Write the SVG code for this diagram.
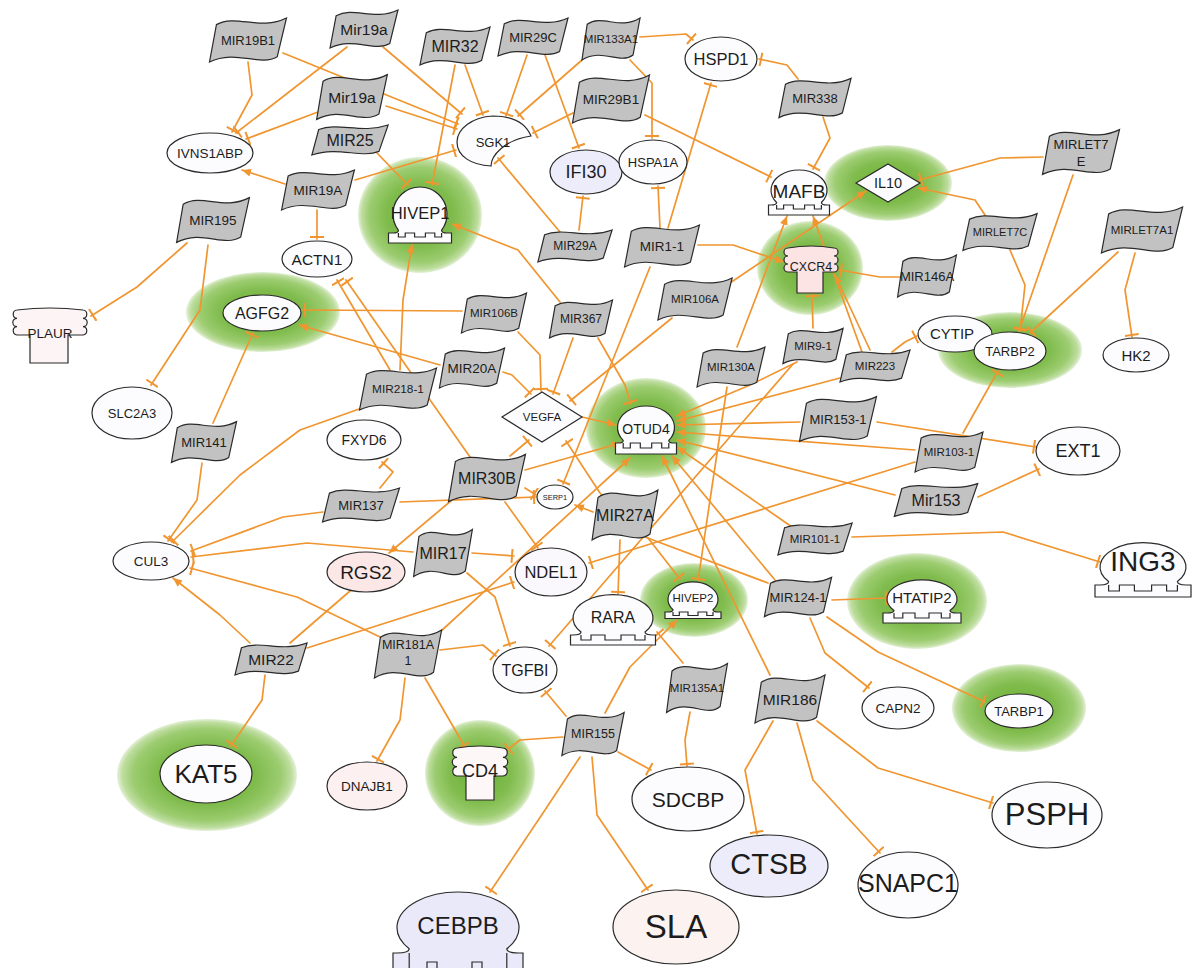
<svg xmlns="http://www.w3.org/2000/svg" width="1195" height="968" viewBox="0 0 1195 968">
<defs>
<style>
.e{fill:none;stroke:#f0952f;stroke-width:1.7;stroke-linejoin:round;stroke-linecap:round}
.t{marker-end:url(#tb)}
.a{marker-end:url(#ar)}
.mir{fill:#c2c2c2;stroke:#2a2a2a;stroke-width:1.2}
.g{fill:#fcfcff;stroke:#2a2a2a;stroke-width:1.2}
.h{fill:url(#halo)}
.ln{fill:none;stroke:#2a2a2a;stroke-width:1.2}
text{font-family:"Liberation Sans",Arial,Helvetica,sans-serif;text-anchor:middle;dominant-baseline:central;fill:#1c1c1c}
</style>
<radialGradient id="halo">
<stop offset="0" stop-color="#6cae35"/>
<stop offset="0.55" stop-color="#80bc4d"/>
<stop offset="0.82" stop-color="#9ccc70"/>
<stop offset="0.94" stop-color="#bedd9f"/>
<stop offset="1" stop-color="#e4f1d8"/>
</radialGradient>
<path id="flag" d="M-28.7,-14 C-10.5,-24 10.5,-8 35,-20 L26.6,15.2 C10.5,24.8 -10.5,8 -35,20 Z" class="mir" vector-effect="non-scaling-stroke"/>
<marker id="tb" markerUnits="userSpaceOnUse" markerWidth="6" markerHeight="14" refX="4" refY="7" orient="auto"><path d="M2,0V14" stroke="#f0952f" stroke-width="2"/></marker>
<marker id="ar" markerUnits="userSpaceOnUse" markerWidth="10" markerHeight="10" refX="9" refY="5" orient="auto"><path d="M0,1 L9,5 L0,9 Z" fill="#f0952f"/></marker>
</defs>
<rect width="1195" height="968" fill="#ffffff"/>
<g id="halos">
<ellipse class="h" cx="420" cy="215" rx="62" ry="58"/>
<ellipse class="h" cx="888" cy="183" rx="64" ry="38"/>
<ellipse class="h" cx="810" cy="268" rx="53" ry="47"/>
<ellipse class="h" cx="263" cy="312" rx="77" ry="40"/>
<ellipse class="h" cx="646" cy="428" rx="60" ry="50"/>
<ellipse class="h" cx="1010" cy="350" rx="72" ry="38"/>
<ellipse class="h" cx="694" cy="600" rx="54" ry="37"/>
<ellipse class="h" cx="917" cy="601" rx="70" ry="48"/>
<ellipse class="h" cx="1019" cy="708" rx="67" ry="44"/>
<ellipse class="h" cx="207" cy="775" rx="90" ry="56"/>
<ellipse class="h" cx="480" cy="773" rx="55" ry="53"/>
</g>
<g id="connectors">
<polyline class="e t" points="248,62 252,95 232,132"/>
<polyline class="e t" points="283,53 458,124"/>
<polyline class="e t" points="347,47 236,133"/>
<polyline class="e t" points="383,47 462,114"/>
<polyline class="e t" points="318,112 246,139"/>
<polyline class="e t" points="386,106 457,129"/>
<polyline class="e t" points="455,65 432,185"/>
<polyline class="e t" points="465,65 483,115"/>
<polyline class="e t" points="377,153 408,185"/>
<polyline class="e a" points="285,184 242,170"/>
<polyline class="e t" points="355,180 456,150"/>
<polyline class="e t" points="317,210 317,239"/>
<polyline class="e t" points="527,55 506,116"/>
<polyline class="e t" points="545,55 579,148"/>
<polyline class="e t" points="640,37 686,34 693,40"/>
<polyline class="e t" points="630,60 652,83 652,138"/>
<polyline class="e t" points="582,60 518,116"/>
<polyline class="e t" points="573,113 533,133"/>
<polyline class="e t" points="645,115 771,177"/>
<polyline class="e t" points="798,79 787,65 759,59"/>
<polyline class="e t" points="823,117 830,138 813,169"/>
<polyline class="e t" points="579,230 583,196"/>
<polyline class="e t" points="560,232 498,158"/>
<polyline class="e t" points="668,228 711,83"/>
<polyline class="e t" points="660,228 658,186"/>
<polyline class="e a" points="698,245 733,245 784,262"/>
<polyline class="e t" points="650,267 563,484"/>
<polyline class="e a" points="730,283 866,191"/>
<polyline class="e t" points="672,318 570,401"/>
<polyline class="e t" points="462,311 303,310"/>
<polyline class="e t" points="518,332 540,355 541,391"/>
<polyline class="e t" points="573,338 553,394"/>
<polyline class="e t" points="598,338 625,385 631,404"/>
<polyline class="e a" points="560,302 518,250 452,224"/>
<polyline class="e t" points="503,372 512,375 531,394"/>
<polyline class="e a" points="440,365 299,325"/>
<polyline class="e t" points="390,370 337,280"/>
<polyline class="e t" points="470,457 346,280"/>
<polyline class="e a" points="400,370 403,300 412,244"/>
<polyline class="e t" points="362,408 300,430 240,475 172,542"/>
<polyline class="e t" points="213,423 253,333"/>
<polyline class="e t" points="202,463 197,500 168,541"/>
<polyline class="e t" points="187,243 137,287 91,316"/>
<polyline class="e t" points="208,245 200,310 151,385"/>
<polyline class="e a" points="582,417 616,425"/>
<polyline class="e t" points="510,456 529,440"/>
<polyline class="e a" points="525,470 621,443"/>
<polyline class="e t" points="525,488 536,495"/>
<polyline class="e t" points="505,502 538,548"/>
<polyline class="e a" points="452,500 389,553"/>
<polyline class="e t" points="400,502 536,497"/>
<polyline class="e t" points="380,488 393,472 382,462"/>
<polyline class="e t" points="323,512 283,517 191,551"/>
<polyline class="e t" points="413,552 307,543 191,557"/>
<polyline class="e t" points="472,553 514,556"/>
<polyline class="e t" points="467,573 495,597 510,646"/>
<polyline class="e t" points="380,637 297,597 190,568"/>
<polyline class="e a" points="250,643 220,615 173,578"/>
<polyline class="e" points="290,643 350,591"/>
<polyline class="e t" points="307,648 514,582"/>
<polyline class="e t" points="265,675 262,700 231,746"/>
<polyline class="e t" points="440,650 483,645 496,656"/>
<polyline class="e t" points="405,678 400,720 377,761"/>
<polyline class="e t" points="425,678 465,747"/>
<polyline class="e a" points="440,632 630,458"/>
<polyline class="e t" points="566,716 545,691"/>
<polyline class="e t" points="563,737 520,740 507,750"/>
<polyline class="e a" points="605,713 630,667 677,620"/>
<polyline class="e t" points="618,752 651,770"/>
<polyline class="e t" points="592,757 597,815 648,890"/>
<polyline class="e t" points="580,757 545,810 490,892"/>
<polyline class="e t" points="690,712 685,740 687,766"/>
<polyline class="e t" points="683,663 657,632"/>
<polyline class="e a" points="593,512 575,505"/>
<polyline class="e t" points="620,540 618,594"/>
<polyline class="e t" points="648,538 680,579"/>
<polyline class="e t" points="768,583 645,537 600,493 566,441"/>
<polyline class="e t" points="915,462 589,563"/>
<polyline class="e t" points="963,433 998,371"/>
<polyline class="e a" points="915,450 677,432"/>
<polyline class="e a" points="800,422 677,425"/>
<polyline class="e t" points="877,422 1036,447"/>
<polyline class="e a" points="895,495 677,440"/>
<polyline class="e t" points="978,497 1039,469"/>
<polyline class="e a" points="792,527 677,447"/>
<polyline class="e t" points="852,537 1003,532 1100,562"/>
<polyline class="e a" points="775,580 672,456"/>
<polyline class="e t" points="832,600 888,598"/>
<polyline class="e t" points="827,617 878,652 985,702"/>
<polyline class="e t" points="810,618 825,653 869,688"/>
<polyline class="e a" points="770,675 662,456"/>
<polyline class="e t" points="773,721 745,770 757,834"/>
<polyline class="e t" points="797,723 813,780 880,853"/>
<polyline class="e t" points="817,721 878,768 993,803"/>
<polyline class="e t" points="813,328 812,294"/>
<polyline class="e a" points="797,362 750,385 677,416"/>
<polyline class="e t" points="793,364 549,646"/>
<polyline class="e a" points="840,378 677,421"/>
<polyline class="e t" points="892,352 905,342 917,336"/>
<polyline class="e a" points="870,350 835,275"/>
<polyline class="e a" points="862,352 813,216"/>
<polyline class="e a" points="737,347 787,216"/>
<polyline class="e t" points="727,387 710,500 698,581"/>
<polyline class="e t" points="900,277 880,277 839,270"/>
<polyline class="e t" points="1043,157 1000,158 919,180"/>
<polyline class="e t" points="1073,175 1019,331"/>
<polyline class="e a" points="985,215 975,200 918,188"/>
<polyline class="e t" points="1010,250 1025,285 1020,331"/>
<polyline class="e t" points="1118,252 1030,333"/>
<polyline class="e t" points="1135,253 1125,290 1132,337"/>
</g>
<g id="HSPD1"><ellipse class="g" cx="721" cy="59" rx="36" ry="22"/><text x="721" y="59" font-size="16.5">HSPD1</text></g>
<g id="IVNS1ABP"><ellipse class="g" cx="210" cy="153" rx="43" ry="20"/><text x="210" y="153" font-size="13.5">IVNS1ABP</text></g>
<g id="SGK1"><path class="g" d="M531,136 C524,119 507,116 493,116 C472,117 457,129 457,142 C457,156 471,165 491,166 C491,156 504,140 531,136 Z"/><text x="493" y="142" font-size="13">SGK1</text></g>
<g id="IFI30"><ellipse class="g" style="fill:#ececfb" cx="586" cy="172" rx="36" ry="22"/><text x="586" y="172" font-size="18">IFI30</text></g>
<g id="HSPA1A"><ellipse class="g" cx="653" cy="162" rx="34" ry="22"/><text x="653" y="162" font-size="13">HSPA1A</text></g>
<g id="MAFB"><path class="g" d="M776.6,202.5 Q776.6,205 771,205 L768.5,205 L768.5,215 L829.5,215 L829.5,205 L827,205 Q821.4,205 821.4,202.5 A28 20.3 0 1 0 776.6,202.5 Z"/><path class="ln" d="M776.6,205 V209 H783.6 V205 H793.4 V209 H804.6 V205 H814.4 V209 H821.4 V205"/><text x="799" y="191" font-size="19">MAFB</text></g>
<g id="IL10"><polygon class="g" points="856,183 888,164 920,183 888,202"/><text x="888" y="183" font-size="14.5">IL10</text></g>
<g id="HIVEP1"><path class="g" d="M398.4,230.2 Q398.4,233 393,233 L388.5,233 L388.5,243 L451.5,243 L451.5,233 L447,233 Q441.6,233 441.6,230.2 A27 27 0 1 0 398.4,230.2 Z"/><path class="ln" d="M398.4,233 V237 H405.2 V233 H414.6 V237 H425.4 V233 H434.8 V237 H441.6 V233"/><text x="420" y="213" font-size="16.5">HIVEP1</text></g>
<g id="ACTN1"><ellipse class="g" cx="317" cy="259" rx="35" ry="18"/><text x="317" y="259" font-size="15.5">ACTN1</text></g>
<g id="AGFG2"><ellipse class="g" cx="262" cy="313" rx="39" ry="18"/><text x="262" y="313" font-size="16">AGFG2</text></g>
<g id="PLAUR"><path class="g" style="fill:#fdf5f5" d="M17,310 Q50,306 83,310 A4.17 4.17 0 0 1 83,318.3 A4.17 4.17 0 0 1 83,326.7 A4.17 4.17 0 0 1 83,335 L68,335 L68,363 L30,363 L30,335 L17,335 A4.17 4.17 0 0 1 17,326.7 A4.17 4.17 0 0 1 17,318.3 A4.17 4.17 0 0 1 17,310 Z"/><text x="50" y="333" font-size="13.5">PLAUR</text></g>
<g id="SLC2A3"><ellipse class="g" cx="132" cy="413" rx="40" ry="26"/><text x="132" y="413" font-size="13">SLC2A3</text></g>
<g id="CXCR4"><path class="g" style="fill:#fde4e4" d="M788,248 Q811,244 834,248 A4 4 0 0 1 834,256 A4 4 0 0 1 834,264 A4 4 0 0 1 834,272 L823,272 L823,293 L797,293 L797,272 L788,272 A4 4 0 0 1 788,264 A4 4 0 0 1 788,256 A4 4 0 0 1 788,248 Z"/><text x="811" y="267" font-size="12.5">CXCR4</text></g>
<g id="VEGFA"><polygon class="g" points="502,417 542,392 582,417 542,442"/><text x="542" y="417" font-size="11.5">VEGFA</text></g>
<g id="OTUD4"><path class="g" d="M623.2,440.4 Q623.2,443 617.5,443 L615.5,443 L615.5,454 L676.5,454 L676.5,443 L674.5,443 Q668.8,443 668.8,440.4 A28.5 21.5 0 1 0 623.2,440.4 Z"/><path class="ln" d="M623.2,443 V448 H630.3 V443 H640.3 V448 H651.7 V443 H661.7 V448 H668.8 V443"/><text x="646" y="429" font-size="14">OTUD4</text></g>
<g id="CYTIP"><ellipse class="g" cx="955" cy="334" rx="37" ry="18"/><text x="952" y="333" font-size="15">CYTIP</text></g>
<g id="TARBP2"><ellipse class="g" cx="1010" cy="351" rx="36" ry="19"/><text x="1010" y="351" font-size="13">TARBP2</text></g>
<g id="HK2"><ellipse class="g" cx="1136" cy="355" rx="33" ry="17"/><text x="1136" y="355" font-size="15">HK2</text></g>
<g id="EXT1"><ellipse class="g" cx="1078" cy="451" rx="42" ry="24"/><text x="1078" y="451" font-size="18">EXT1</text></g>
<g id="FXYD6"><ellipse class="g" cx="364" cy="440" rx="37" ry="20"/><text x="364" y="440" font-size="14">FXYD6</text></g>
<g id="SERP1"><ellipse class="g" cx="555" cy="497" rx="18" ry="12"/><text x="555" y="497" font-size="7.5">SERP1</text></g>
<g id="CUL3"><ellipse class="g" cx="151" cy="561" rx="38" ry="19"/><text x="151" y="561" font-size="13.5">CUL3</text></g>
<g id="RGS2"><ellipse class="g" style="fill:#fbe8e6" cx="366" cy="572" rx="39" ry="20"/><text x="366" y="572" font-size="19">RGS2</text></g>
<g id="NDEL1"><ellipse class="g" style="fill:#faf8fd" cx="551" cy="572" rx="36" ry="24"/><text x="551" y="572" font-size="16.5">NDEL1</text></g>
<g id="RARA"><path class="g" d="M581,632 Q581,635 573,635 L570.5,635 L570.5,645 L655.5,645 L655.5,635 L653,635 Q645,635 645,632 A40 23.3 0 1 0 581,632 Z"/><path class="ln" d="M581,635 V640 H591 V635 H605 V640 H621 V635 H635 V640 H645 V635"/><text x="613" y="617" font-size="16">RARA</text></g>
<g id="HIVEP2"><path class="g" d="M673,609.8 Q673,612 668,612 L665,612 L665,618.5 L721,618.5 L721,612 L718,612 Q713,612 713,609.8 A25 17.4 0 1 0 673,609.8 Z"/><path class="ln" d="M673,612 V615.5 H679.3 V612 H688 V615.5 H698 V612 H706.8 V615.5 H713 V612"/><text x="693" y="598" font-size="11.5">HIVEP2</text></g>
<g id="HTATIP2"><path class="g" d="M894,610.5 Q894,613 887,613 L883,613 L883,623 L961,623 L961,613 L957,613 Q950,613 950,610.5 A35 19.2 0 1 0 894,610.5 Z"/><path class="ln" d="M894,613 V618 H902.8 V613 H915 V618 H929 V613 H941.3 V618 H950 V613"/><text x="922" y="597" font-size="15">HTATIP2</text></g>
<g id="ING3"><path class="g" d="M1108.6,581.6 Q1108.6,585 1100,585 L1095,585 L1095,597 L1191,597 L1191,585 L1186,585 Q1177.4,585 1177.4,581.6 A43 24.4 0 1 0 1108.6,581.6 Z"/><path class="ln" d="M1108.6,585 V591 H1119.4 V585 H1134.4 V591 H1151.6 V585 H1166.6 V591 H1177.4 V585"/><text x="1143" y="561" font-size="28">ING3</text></g>
<g id="TGFBI"><ellipse class="g" cx="525" cy="670" rx="32" ry="23"/><text x="525" y="670" font-size="16">TGFBI</text></g>
<g id="CAPN2"><ellipse class="g" cx="898" cy="708" rx="36" ry="21"/><text x="898" y="708" font-size="13.5">CAPN2</text></g>
<g id="TARBP1"><ellipse class="g" cx="1019" cy="711" rx="34" ry="17"/><text x="1019" y="711" font-size="13">TARBP1</text></g>
<g id="KAT5"><ellipse class="g" cx="206" cy="774" rx="46" ry="29"/><text x="206" y="774" font-size="26">KAT5</text></g>
<g id="DNAJB1"><ellipse class="g" style="fill:#fcf0f0" cx="367" cy="786" rx="40" ry="24"/><text x="367" y="786" font-size="13.5">DNAJB1</text></g>
<g id="CD4"><path class="g" style="fill:#fdf7f7" d="M457,748 Q480,744 503,748 A4.67 4.67 0 0 1 503,757.3 A4.67 4.67 0 0 1 503,766.7 A4.67 4.67 0 0 1 503,776 L494,776 L494,800 L466,800 L466,776 L457,776 A4.67 4.67 0 0 1 457,766.7 A4.67 4.67 0 0 1 457,757.3 A4.67 4.67 0 0 1 457,748 Z"/><text x="480" y="771" font-size="18">CD4</text></g>
<g id="CEBPB"><path class="g" style="fill:#e9e9f9" d="M409.2,948.8 Q409.2,953 397,953 L393,953 L393,985 L523,985 L523,953 L519,953 Q506.8,953 506.8,948.8 A61 35.5 0 1 0 409.2,948.8 Z"/><path class="ln" d="M409.2,953 V970 H427 V962 H437 V970 H472 V962 H482 V970 H506.8 V953"/><text x="458" y="925" font-size="24">CEBPB</text></g>
<g id="SDCBP"><ellipse class="g" cx="688" cy="799" rx="56" ry="32"/><text x="688" y="799" font-size="21">SDCBP</text></g>
<g id="CTSB"><ellipse class="g" style="fill:#ececfa" cx="769" cy="866" rx="59" ry="31"/><text x="769" y="864" font-size="29">CTSB</text></g>
<g id="SNAPC1"><ellipse class="g" cx="908" cy="885" rx="50" ry="33"/><text x="908" y="883" font-size="25">SNAPC1</text></g>
<g id="SLA"><ellipse class="g" style="fill:#fcf3f1" cx="676" cy="927" rx="63" ry="37"/><text x="676" y="926" font-size="33">SLA</text></g>
<g id="PSPH"><ellipse class="g" cx="1047" cy="815" rx="55" ry="33"/><text x="1047" y="814" font-size="31">PSPH</text></g>
<g id="MIR19B1"><use href="#flag" transform="translate(248,40) scale(1.1,1.1)"/><text x="248" y="40" font-size="13">MIR19B1</text></g>
<g id="Mir19a-1"><use href="#flag" transform="translate(364,29) scale(0.97,0.95)"/><text x="364" y="29" font-size="15.5">Mir19a</text></g>
<g id="MIR32"><use href="#flag" transform="translate(455,46) scale(1,0.95)"/><text x="455" y="46" font-size="16">MIR32</text></g>
<g id="MIR29C"><use href="#flag" transform="translate(533,37) scale(1,0.95)"/><text x="533" y="37" font-size="13">MIR29C</text></g>
<g id="MIR133A1"><use href="#flag" transform="translate(611,39) scale(0.83,1.05)"/><text x="611" y="39" font-size="11.5">MIR133A1</text></g>
<g id="Mir19a-2"><use href="#flag" transform="translate(352,97) scale(1.01,1.12)"/><text x="352" y="97" font-size="15.5">Mir19a</text></g>
<g id="MIR25"><use href="#flag" transform="translate(350,140) scale(1.09,0.75)"/><text x="350" y="140" font-size="16">MIR25</text></g>
<g id="MIR29B1"><use href="#flag" transform="translate(611,99) scale(1.1,1.2)"/><text x="611" y="99" font-size="13.5">MIR29B1</text></g>
<g id="MIR338"><use href="#flag" transform="translate(815,98) scale(1.03,0.98)"/><text x="815" y="98" font-size="13">MIR338</text></g>
<g id="MIR19A"><use href="#flag" transform="translate(318,190) scale(1.04,1)"/><text x="318" y="190" font-size="13.5">MIR19A</text></g>
<g id="MIR195"><use href="#flag" transform="translate(213,220) scale(1.04,1.12)"/><text x="213" y="220" font-size="13.5">MIR195</text></g>
<g id="MIRLET7E"><use href="#flag" transform="translate(1081,152) scale(1.1,1.12)"/><text x="1081" y="144" font-size="13">MIRLET7</text><text x="1081" y="161" font-size="13">E</text></g>
<g id="MIRLET7C"><use href="#flag" transform="translate(1000,232) scale(1.06,0.92)"/><text x="1000" y="232" font-size="11">MIRLET7C</text></g>
<g id="MIRLET7A1"><use href="#flag" transform="translate(1142,230) scale(1.16,1.15)"/><text x="1142" y="230" font-size="11.5">MIRLET7A1</text></g>
<g id="MIR146A"><use href="#flag" transform="translate(927,276) scale(0.84,1.05)"/><text x="927" y="276" font-size="13">MIR146A</text></g>
<g id="MIR29A"><use href="#flag" transform="translate(575,246) scale(1.06,0.8)"/><text x="575" y="246" font-size="12">MIR29A</text></g>
<g id="MIR1-1"><use href="#flag" transform="translate(662,246) scale(1.07,1.05)"/><text x="662" y="246" font-size="13.5">MIR1-1</text></g>
<g id="MIR106A"><use href="#flag" transform="translate(695,299) scale(1.06,1.05)"/><text x="695" y="299" font-size="11.5">MIR106A</text></g>
<g id="MIR106B"><use href="#flag" transform="translate(494,313) scale(0.93,1)"/><text x="494" y="313" font-size="11.5">MIR106B</text></g>
<g id="MIR367"><use href="#flag" transform="translate(581,319) scale(0.9,0.95)"/><text x="581" y="319" font-size="12">MIR367</text></g>
<g id="MIR20A"><use href="#flag" transform="translate(472,368) scale(0.93,1)"/><text x="472" y="368" font-size="13.5">MIR20A</text></g>
<g id="MIR130A"><use href="#flag" transform="translate(731,367) scale(0.97,1)"/><text x="731" y="367" font-size="11.5">MIR130A</text></g>
<g id="MIR9-1"><use href="#flag" transform="translate(813,346) scale(0.86,0.88)"/><text x="813" y="346" font-size="11.5">MIR9-1</text></g>
<g id="MIR223"><use href="#flag" transform="translate(875,366) scale(1,0.8)"/><text x="875" y="366" font-size="11.5">MIR223</text></g>
<g id="MIR218-1"><use href="#flag" transform="translate(398,389) scale(1.1,1.05)"/><text x="398" y="389" font-size="11.8">MIR218-1</text></g>
<g id="MIR153-1"><use href="#flag" transform="translate(838,419) scale(1.1,1.12)"/><text x="838" y="419" font-size="13">MIR153-1</text></g>
<g id="MIR103-1"><use href="#flag" transform="translate(949,452) scale(0.97,1)"/><text x="949" y="452" font-size="11.5">MIR103-1</text></g>
<g id="MIR141"><use href="#flag" transform="translate(204,442) scale(0.93,1.02)"/><text x="204" y="442" font-size="13">MIR141</text></g>
<g id="MIR137"><use href="#flag" transform="translate(361,505) scale(1.1,0.85)"/><text x="361" y="505" font-size="13">MIR137</text></g>
<g id="MIR30B"><use href="#flag" transform="translate(487,478) scale(1.1,1.18)"/><text x="487" y="478" font-size="16">MIR30B</text></g>
<g id="MIR27A"><use href="#flag" transform="translate(625,515) scale(0.94,1.25)"/><text x="625" y="515" font-size="16">MIR27A</text></g>
<g id="Mir153"><use href="#flag" transform="translate(936,500) scale(1.19,0.82)"/><text x="936" y="500" font-size="16">Mir153</text></g>
<g id="MIR17"><use href="#flag" transform="translate(443,553) scale(0.84,1.18)"/><text x="443" y="553" font-size="16">MIR17</text></g>
<g id="MIR101-1"><use href="#flag" transform="translate(815,539) scale(1.06,0.8)"/><text x="815" y="539" font-size="11.5">MIR101-1</text></g>
<g id="MIR124-1"><use href="#flag" transform="translate(798,597) scale(0.96,0.98)"/><text x="798" y="597" font-size="13">MIR124-1</text></g>
<g id="MIR22"><use href="#flag" transform="translate(271,659) scale(1.03,0.8)"/><text x="271" y="659" font-size="15.5">MIR22</text></g>
<g id="MIR181A1"><use href="#flag" transform="translate(408,654) scale(0.96,1.2)"/><text x="408" y="645" font-size="12.5">MIR181A</text><text x="408" y="661" font-size="12.5">1</text></g>
<g id="MIR135A1"><use href="#flag" transform="translate(697,688) scale(0.87,1.22)"/><text x="697" y="688" font-size="11.5">MIR135A1</text></g>
<g id="MIR186"><use href="#flag" transform="translate(790,699) scale(1,1.2)"/><text x="790" y="699" font-size="15.5">MIR186</text></g>
<g id="MIR155"><use href="#flag" transform="translate(593,734) scale(0.89,1.08)"/><text x="593" y="734" font-size="12.5">MIR155</text></g>
</svg>
